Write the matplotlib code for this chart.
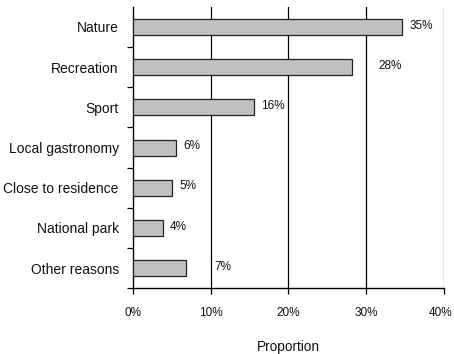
import matplotlib
matplotlib.use("Agg")
import matplotlib.pyplot as plt
from matplotlib.ticker import FuncFormatter, FixedLocator
from matplotlib.transforms import ScaledTranslation

# Reasons for visiting (share of respondents, %)
categories = ["Nature", "Recreation", "Sport", "Local gastronomy",
              "Close to residence", "National park", "Other reasons"]
values = [34.6, 28.1, 15.6, 5.6, 5.1, 3.9, 6.9]
x_ticks = [0, 10, 20, 30, 40]

# extra horizontal offset (points) for a few value labels
label_shift = [0, 14, 0, 0, 0, 0, 15]

FONT = ["Liberation Sans", "DejaVu Sans"]

fig = plt.figure(figsize=(4.54, 3.54), dpi=100)
ax = fig.add_axes([0.2923, 0.1856, 0.9786 - 0.2923, 0.9808 - 0.1856])

y = list(range(len(categories)))
ax.barh(y, values, height=0.4, color="#c0c0c0", edgecolor="#222222",
        linewidth=0.9, zorder=3)

ax.set_xlim(0, 40)
ax.set_ylim(len(categories) - 0.5, -0.5)

# vertical gridlines
for xv in x_ticks[1:-1]:
    ax.axvline(xv, color="black", linewidth=0.9, zorder=1)
ax.axvline(x_ticks[-1], color="#8c8c8c", linewidth=1.0, zorder=1)

for v, yi, dx in zip(values, y, label_shift):
    ax.annotate(f"{v:.0f}%", xy=(v, yi), xytext=(5 + dx, 1),
                textcoords="offset points", va="center", ha="left",
                fontsize=8.5, family=FONT, color="#111111")

# category labels centred between boundary ticks
ax.set_yticks(y)
ax.set_yticklabels(categories, family=FONT, fontsize=10, color="#111111")
ax.yaxis.set_minor_locator(FixedLocator([i + 0.5 for i in range(len(categories))]))
ax.tick_params(axis="y", which="major", length=0, pad=10)
ax.tick_params(axis="y", which="minor", length=4.5, width=0.9, direction="out")

ax.set_xticks(x_ticks)
ax.xaxis.set_major_formatter(FuncFormatter(lambda v, p: f"{v:.0f}%"))
ax.tick_params(axis="x", length=4.5, width=0.9, direction="out", pad=9)
xlabels = ax.get_xticklabels()
for lbl in xlabels:
    lbl.set_family(FONT)
    lbl.set_fontsize(8.5)
    lbl.set_color("#111111")
# nudge the last tick label so it stays inside the figure
xlabels[-1].set_transform(xlabels[-1].get_transform()
                          + ScaledTranslation(-3 / 72, 0, fig.dpi_scale_trans))

ax.set_xlabel("Proportion", family=FONT, fontsize=9.8, labelpad=15,
              color="#111111")

for side in ("top", "right"):
    ax.spines[side].set_visible(False)
for side in ("left", "bottom"):
    ax.spines[side].set_linewidth(1.0)
    ax.spines[side].set_color("black")

fig.savefig("out.png", dpi=100)
